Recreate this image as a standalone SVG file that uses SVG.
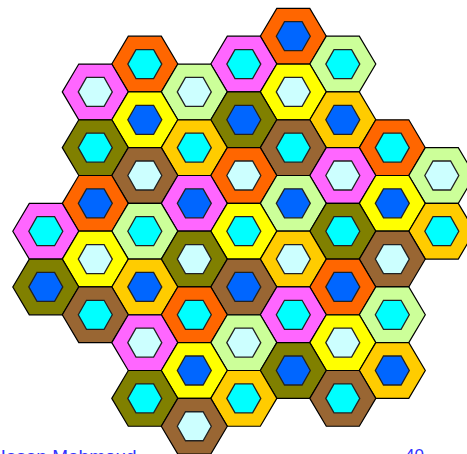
<svg xmlns="http://www.w3.org/2000/svg" xmlns:xlink="http://www.w3.org/1999/xlink" width="467" height="454" viewBox="0 0 467 454">
<style>
.o{stroke:#000;stroke-width:1.2;stroke-linejoin:miter}
.i{stroke:#222;stroke-width:1.3}
.or{fill:#FF6600}.pk{fill:#FF66FF}.lg{fill:#CCFF99}.ye{fill:#FFFF00}
.ol{fill:#808000}.go{fill:#FFCC00}.br{fill:#996633}
.cy{fill:#00FFFF}.lc{fill:#CCFFFF}.bl{fill:#0066FF}
.t{font-family:"Liberation Sans",Arial,sans-serif;fill:#3333FF}
</style>
<defs>
<polygon id="out" points="-33,0 -16.5,-27.86 16.5,-27.86 33,0 16.5,27.86 -16.5,27.86"/>
<polygon id="in" points="-17,0 -8.8,-14.5 8.8,-14.5 17,0 8.8,14.5 -8.8,14.5"/>
</defs>
<g id="cells">
<g id="h5-0" transform="translate(293.3,36.2)"><use href="#out" class="o or"/><use href="#in" class="i bl"/></g>
<g id="h2-1" transform="translate(144.8,64.06)"><use href="#out" class="o or"/><use href="#in" class="i cy"/></g>
<g id="h4-1" transform="translate(243.8,64.06)"><use href="#out" class="o pk"/><use href="#in" class="i cy"/></g>
<g id="h6-1" transform="translate(342.8,64.06)"><use href="#out" class="o lg"/><use href="#in" class="i cy"/></g>
<g id="h1-2" transform="translate(95.3,91.92)"><use href="#out" class="o pk"/><use href="#in" class="i lc"/></g>
<g id="h3-2" transform="translate(194.3,91.92)"><use href="#out" class="o lg"/><use href="#in" class="i lc"/></g>
<g id="h5-2" transform="translate(293.3,91.92)"><use href="#out" class="o ye"/><use href="#in" class="i lc"/></g>
<g id="h2-3" transform="translate(144.8,119.78)"><use href="#out" class="o ye"/><use href="#in" class="i bl"/></g>
<g id="h4-3" transform="translate(243.8,119.78)"><use href="#out" class="o ol"/><use href="#in" class="i bl"/></g>
<g id="h6-3" transform="translate(342.8,119.78)"><use href="#out" class="o go"/><use href="#in" class="i bl"/></g>
<g id="h1-4" transform="translate(95.3,147.64)"><use href="#out" class="o ol"/><use href="#in" class="i cy"/></g>
<g id="h3-4" transform="translate(194.3,147.64)"><use href="#out" class="o go"/><use href="#in" class="i cy"/></g>
<g id="h5-4" transform="translate(293.3,147.64)"><use href="#out" class="o br"/><use href="#in" class="i cy"/></g>
<g id="h7-4" transform="translate(392.3,147.64)"><use href="#out" class="o or"/><use href="#in" class="i cy"/></g>
<g id="h2-5" transform="translate(144.8,175.5)"><use href="#out" class="o br"/><use href="#in" class="i lc"/></g>
<g id="h4-5" transform="translate(243.8,175.5)"><use href="#out" class="o or"/><use href="#in" class="i lc"/></g>
<g id="h6-5" transform="translate(342.8,175.5)"><use href="#out" class="o pk"/><use href="#in" class="i lc"/></g>
<g id="h8-5" transform="translate(441.8,175.5)"><use href="#out" class="o lg"/><use href="#in" class="i lc"/></g>
<g id="h1-6" transform="translate(95.3,203.36)"><use href="#out" class="o or"/><use href="#in" class="i bl"/></g>
<g id="h3-6" transform="translate(194.3,203.36)"><use href="#out" class="o pk"/><use href="#in" class="i bl"/></g>
<g id="h5-6" transform="translate(293.3,203.36)"><use href="#out" class="o lg"/><use href="#in" class="i bl"/></g>
<g id="h7-6" transform="translate(392.3,203.36)"><use href="#out" class="o ye"/><use href="#in" class="i bl"/></g>
<g id="h0-7" transform="translate(45.8,231.22)"><use href="#out" class="o pk"/><use href="#in" class="i cy"/></g>
<g id="h2-7" transform="translate(144.8,231.22)"><use href="#out" class="o lg"/><use href="#in" class="i cy"/></g>
<g id="h4-7" transform="translate(243.8,231.22)"><use href="#out" class="o ye"/><use href="#in" class="i cy"/></g>
<g id="h6-7" transform="translate(342.8,231.22)"><use href="#out" class="o ol"/><use href="#in" class="i cy"/></g>
<g id="h8-7" transform="translate(441.8,231.22)"><use href="#out" class="o go"/><use href="#in" class="i cy"/></g>
<g id="h1-8" transform="translate(95.3,259.08)"><use href="#out" class="o ye"/><use href="#in" class="i lc"/></g>
<g id="h3-8" transform="translate(194.3,259.08)"><use href="#out" class="o ol"/><use href="#in" class="i lc"/></g>
<g id="h5-8" transform="translate(293.3,259.08)"><use href="#out" class="o go"/><use href="#in" class="i lc"/></g>
<g id="h7-8" transform="translate(392.3,259.08)"><use href="#out" class="o br"/><use href="#in" class="i lc"/></g>
<g id="h0-9" transform="translate(45.8,286.94)"><use href="#out" class="o ol"/><use href="#in" class="i bl"/></g>
<g id="h2-9" transform="translate(144.8,286.94)"><use href="#out" class="o go"/><use href="#in" class="i bl"/></g>
<g id="h4-9" transform="translate(243.8,286.94)"><use href="#out" class="o br"/><use href="#in" class="i bl"/></g>
<g id="h6-9" transform="translate(342.8,286.94)"><use href="#out" class="o or"/><use href="#in" class="i bl"/></g>
<g id="h1-10" transform="translate(95.3,314.8)"><use href="#out" class="o br"/><use href="#in" class="i cy"/></g>
<g id="h3-10" transform="translate(194.3,314.8)"><use href="#out" class="o or"/><use href="#in" class="i cy"/></g>
<g id="h5-10" transform="translate(293.3,314.8)"><use href="#out" class="o pk"/><use href="#in" class="i cy"/></g>
<g id="h7-10" transform="translate(392.3,314.8)"><use href="#out" class="o lg"/><use href="#in" class="i cy"/></g>
<g id="h2-11" transform="translate(144.8,342.66)"><use href="#out" class="o pk"/><use href="#in" class="i lc"/></g>
<g id="h4-11" transform="translate(243.8,342.66)"><use href="#out" class="o lg"/><use href="#in" class="i lc"/></g>
<g id="h6-11" transform="translate(342.8,342.66)"><use href="#out" class="o ye"/><use href="#in" class="i lc"/></g>
<g id="h3-12" transform="translate(194.3,370.52)"><use href="#out" class="o ye"/><use href="#in" class="i bl"/></g>
<g id="h5-12" transform="translate(293.3,370.52)"><use href="#out" class="o ol"/><use href="#in" class="i bl"/></g>
<g id="h7-12" transform="translate(392.3,370.52)"><use href="#out" class="o go"/><use href="#in" class="i bl"/></g>
<g id="h2-13" transform="translate(144.8,398.38)"><use href="#out" class="o ol"/><use href="#in" class="i cy"/></g>
<g id="h4-13" transform="translate(243.8,398.38)"><use href="#out" class="o go"/><use href="#in" class="i cy"/></g>
<g id="h6-13" transform="translate(342.8,398.38)"><use href="#out" class="o br"/><use href="#in" class="i cy"/></g>
<g id="h3-14" transform="translate(194.3,426.24)"><use href="#out" class="o br"/><use href="#in" class="i lc"/></g>
</g>
<g id="connectors"/>
<text class="t" x="-8" y="462.6" font-size="19">Hasan Mahmoud</text>
<text class="t" x="405" y="461.2" font-size="17">40</text>
</svg>
